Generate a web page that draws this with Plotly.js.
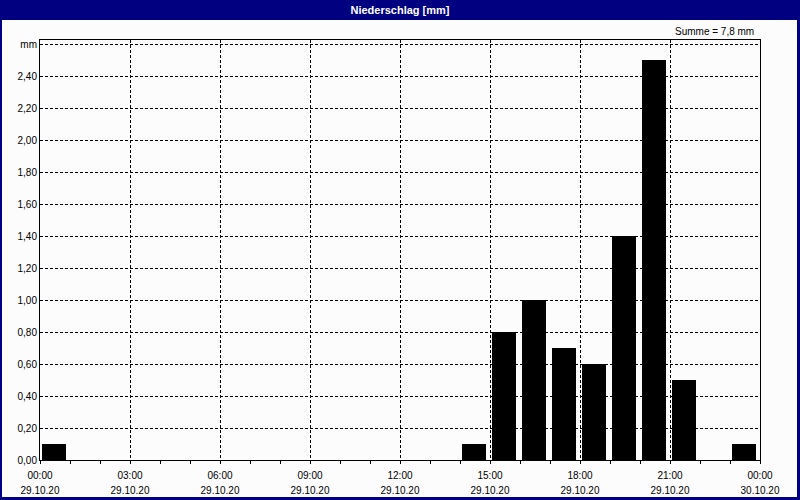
<!DOCTYPE html>
<html>
<head>
<meta charset="utf-8">
<script src="https://cdn.plot.ly/plotly-3.0.1.min.js"></script>
<style>html,body{margin:0;padding:0;background:#fff;}#chart{width:800px;height:500px;}</style>
</head>
<body>
<div id="chart"></div>
<script>
// Data
var hourStarts = [0, 14, 15, 16, 17, 18, 19, 20, 21, 23];
var precip = [0.1, 0.1, 0.8, 1.0, 0.7, 0.6, 1.4, 2.5, 0.5, 0.1];
var xTickVals = [0, 3, 6, 9, 12, 15, 18, 21, 24];
var xTimeLabels = ["00:00", "03:00", "06:00", "09:00", "12:00", "15:00", "18:00", "21:00", "00:00"];
var xDateLabels = ["29.10.20", "29.10.20", "29.10.20", "29.10.20", "29.10.20", "29.10.20", "29.10.20", "29.10.20", "30.10.20"];
var yTickVals = [0, 0.2, 0.4, 0.6, 0.8, 1.0, 1.2, 1.4, 1.6, 1.8, 2.0, 2.2, 2.4, 2.6];
var unitLabel = "mm";
var chartTitle = "Niederschlag [mm]";

var yTickText = yTickVals.map(function (v, i) {
  return i === yTickVals.length - 1 ? unitLabel : v.toFixed(2).replace('.', ',');
});
var total = precip.reduce(function (a, b) { return a + b; }, 0);
var sumText = "Summe = " + total.toFixed(1).replace('.', ',') + " mm";

var FONT = "Liberation Sans, Arial, sans-serif";
var W = 800, H = 500, L = 40, R = 40, T = 40, B = 40;
var pw = W - L - R, ph = H - T - B;
function px2x(p) { return (p - L) / pw; }
function py2y(p) { return 1 - (p - T) / ph; }

var trace = {
  type: 'bar',
  x: hourStarts,
  y: precip,
  width: 0.8,
  offset: 0.067,
  marker: { color: '#000000', line: { width: 0 } },
  hoverinfo: 'none'
};

var gridCommon = { gridcolor: '#000000', gridwidth: 1, griddash: '3px,2px' };

var layout = {
  width: W, height: H,
  margin: { l: L, r: R, t: T, b: B, pad: 0 },
  paper_bgcolor: '#000080',
  plot_bgcolor: '#fcfcfc',
  showlegend: false,
  font: { family: FONT, size: 10, color: '#000000' },
  title: {
    text: chartTitle,
    font: { family: FONT, size: 11, color: '#ffffff', weight: 'bold' },
    xref: 'paper', x: 0.5, xanchor: 'center',
    yref: 'container', y: 1 - 10 / H, yanchor: 'middle'
  },
  bargap: 0,
  xaxis: Object.assign({
    range: [0, 24],
    tickmode: 'array', tickvals: xTickVals, ticktext: xTimeLabels,
    ticks: 'outside', ticklen: 3, tickcolor: '#000000', tickwidth: 1,
    ticklabelstandoff: 3,
    minor: { tickmode: 'linear', tick0: 0, dtick: 1, ticks: 'outside', ticklen: 3, tickcolor: '#000000', showgrid: false },
    showgrid: true,
    showline: true, linecolor: '#000000', linewidth: 1, mirror: true,
    zeroline: false, fixedrange: true,
    tickfont: { family: FONT, size: 10, color: '#000000' }
  }, gridCommon),
  xaxis2: {
    overlaying: 'x', anchor: 'y', side: 'bottom',
    range: [0, 24],
    tickmode: 'array', tickvals: xTickVals, ticktext: xDateLabels,
    ticks: '', showgrid: false, showline: false, zeroline: false,
    ticklabelstandoff: 23,
    tickfont: { family: FONT, size: 10, color: '#000000' }
  },
  yaxis: Object.assign({
    range: [0, 2.625],
    tickmode: 'array', tickvals: yTickVals, ticktext: yTickText,
    ticks: '', showgrid: true,
    showline: true, linecolor: '#000000', linewidth: 1, mirror: true,
    zeroline: false, fixedrange: true,
    tickfont: { family: FONT, size: 10, color: '#000000' }
  }, gridCommon),
  shapes: [
    {
      type: 'rect', xref: 'paper', yref: 'paper', layer: 'below',
      x0: px2x(2), x1: px2x(797), y0: py2y(20), y1: py2y(497),
      fillcolor: '#fcfcfc', line: { width: 0 }
    }
  ],
  annotations: [
    {
      text: sumText, showarrow: false,
      xref: 'paper', yref: 'paper',
      x: px2x(756), xanchor: 'right',
      y: py2y(31), yanchor: 'middle',
      font: { family: FONT, size: 10, color: '#000000' }
    }
  ]
};

Plotly.newPlot('chart', [trace, { type: 'scatter', x: [], y: [], xaxis: 'x2', yaxis: 'y', hoverinfo: 'none' }], layout, { displayModeBar: false, staticPlot: true });
</script>
</body>
</html>
